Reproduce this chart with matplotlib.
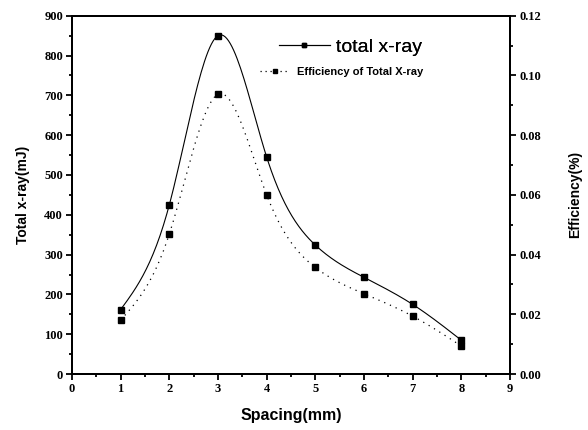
import numpy as np
import matplotlib
matplotlib.use("Agg")
import matplotlib.pyplot as plt
from matplotlib.ticker import MultipleLocator, FormatStrFormatter

# data
spacing = [1, 2, 3, 4, 5, 6, 7, 8]
total_xray = [162, 425, 850, 545, 324, 243, 175, 85]
efficiency = [0.0181, 0.0469, 0.0937, 0.0600, 0.0357, 0.0269, 0.0194, 0.0094]

TICK_FONT = dict(family="Liberation Serif", weight="bold", size=9)
LABEL_FONT = dict(family="Liberation Sans", weight="bold")


def smooth(x, y, n=200):
    """Natural cubic spline through the points (for the connecting curve only)."""
    x = np.asarray(x, float)
    y = np.asarray(y, float)
    k = len(x)
    h = np.diff(x)
    A = np.zeros((k, k))
    r = np.zeros(k)
    A[0, 0] = A[-1, -1] = 1.0
    for i in range(1, k - 1):
        A[i, i - 1] = h[i - 1]
        A[i, i] = 2 * (h[i - 1] + h[i])
        A[i, i + 1] = h[i]
        r[i] = 6 * ((y[i + 1] - y[i]) / h[i] - (y[i] - y[i - 1]) / h[i - 1])
    m = np.linalg.solve(A, r)
    xs = np.linspace(x[0], x[-1], n)
    idx = np.clip(np.searchsorted(x, xs) - 1, 0, k - 2)
    t = xs - x[idx]
    hi = h[idx]
    a = (y[idx + 1] - y[idx]) / hi - hi * (2 * m[idx] + m[idx + 1]) / 6
    ys = y[idx] + a * t + m[idx] / 2 * t ** 2 + (m[idx + 1] - m[idx]) / (6 * hi) * t ** 3
    return xs, ys


fig = plt.figure(figsize=(5.88, 4.30), dpi=100)
ax = fig.add_axes([0.1224, 0.130, 0.745, 0.8335])
ax2 = ax.twinx()

# ── total x-ray (left axis) ──
xs, ys = smooth(spacing, total_xray)
ax.plot(xs, ys, color="black", lw=0.8)
ax.plot(spacing, total_xray, ls="none", marker="s", ms=5, color="black")

# ── efficiency (right axis) ──
xs2, ys2 = smooth(spacing, efficiency)
ax2.plot(xs2, ys2, color="black", lw=0.9, ls=(0, (1, 4)))
ax2.plot(spacing, efficiency, ls="none", marker="s", ms=5, color="black")

ax.set_xlim(0, 9)
ax.set_ylim(0, 900)
ax2.set_ylim(0, 0.12)

ax.xaxis.set_major_locator(MultipleLocator(1))
ax.xaxis.set_minor_locator(MultipleLocator(0.5))
ax.yaxis.set_major_locator(MultipleLocator(100))
ax.yaxis.set_minor_locator(MultipleLocator(50))
ax2.yaxis.set_major_locator(MultipleLocator(0.02))
ax2.yaxis.set_minor_locator(MultipleLocator(0.01))
ax2.yaxis.set_major_formatter(FormatStrFormatter("%.2f"))

for a in (ax, ax2):
    for s in a.spines.values():
        s.set_linewidth(1.4)
    a.tick_params(which="major", direction="out", length=4.5, width=1.3, pad=2)
    a.tick_params(which="minor", direction="out", length=2.5, width=1.3)
ax.tick_params(top=False, right=False, which="both")

for lbl in ax.get_xticklabels() + ax.get_yticklabels() + ax2.get_yticklabels():
    lbl.set_fontproperties(matplotlib.font_manager.FontProperties(**TICK_FONT))

ax.set_xlabel("Spacing(mm)", fontsize=11.5, labelpad=9, **LABEL_FONT)
ax.set_ylabel("Total x-ray(mJ)", fontsize=10, labelpad=10, **LABEL_FONT)
ax2.set_ylabel("Efficiency(%)", fontsize=10, labelpad=20, rotation=90, **LABEL_FONT)

# ── legends (two, to mimic the mixed font sizes) ──
h1, = ax.plot([], [], color="black", lw=0.8, marker="s", ms=3.5)
h2, = ax.plot([], [], color="black", lw=0.9, ls=(0, (1, 3)), marker="s", ms=3.5)
leg1 = ax.legend([h1], ["total x-ray"], loc="center left", bbox_to_anchor=(0.473, 0.913),
                 frameon=False, borderpad=0, borderaxespad=0, handlelength=2.6,
                 handletextpad=0.3, prop=dict(family="Liberation Sans", size=14))
ax.add_artist(leg1)
ax2.legend([h2], ["Efficiency of Total X-ray"], loc="center left",
           bbox_to_anchor=(0.429, 0.843), frameon=False, borderpad=0, borderaxespad=0,
           handlelength=2.7, handletextpad=0.6,
           prop=dict(family="Liberation Sans", size=8, weight="bold"))

fig.savefig("out.png", dpi=100, facecolor="white")
